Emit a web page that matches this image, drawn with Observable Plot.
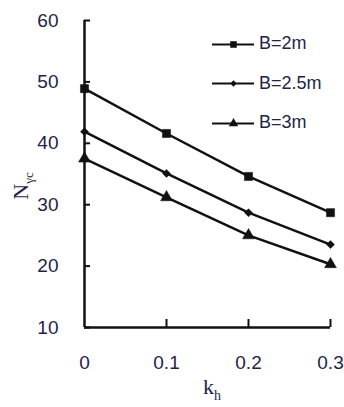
<!DOCTYPE html>
<html>
<head>
<meta charset="utf-8">
<script src="https://cdn.jsdelivr.net/npm/d3@7"></script>
<script src="https://cdn.jsdelivr.net/npm/@observablehq/plot@0.6"></script>
<style>
  html, body { margin: 0; padding: 0; background: #fff; }
  #wrap { position: relative; width: 344px; height: 407px; overflow: hidden; }
  .legend { position: absolute; left: 212px; top: 24px; font-family: "Liberation Sans", Arial, sans-serif; font-size: 18px; color: #1e2448; }
  .legend .row { display: flex; align-items: center; height: 39.5px; }
  .legend svg { margin-right: 5px; }
</style>
</head>
<body>
<div id="wrap"></div>
<script>
const kh = [0, 0.1, 0.2, 0.3];
const seriesNames = ["B=2m", "B=2.5m", "B=3m"];
const nB2 = [48.9, 41.6, 34.6, 28.7];
const nB25 = [41.9, 35.1, 28.7, 23.5];
const nB3 = [37.5, 31.2, 25.0, 20.3];
const symbols = ["square", "diamond2", "triangle"];
const sizes = [4.6, 3.6, 4.4];
const yTicks = [10, 20, 30, 40, 50, 60];
const xTicks = [0, 0.1, 0.2, 0.3];
const xTickLabels = ["0", "0.1", "0.2", "0.3"];

const values = [nB2, nB25, nB3];
const data = [];
seriesNames.forEach((s, i) => kh.forEach((k, j) => data.push({series: s, k, n: values[i][j], i})));

const ink = "#111";
const labelColor = "#1e2448";

const marks = [
  Plot.axisY({ticks: yTicks, tickSize: -6, tickPadding: 32, stroke: ink, strokeWidth: 2, fontSize: 19, fill: labelColor, label: null}),
  Plot.axisX({ticks: xTicks.slice(1), tickSize: -8, tickPadding: 0, stroke: ink, strokeWidth: 2, text: null, label: null}),
  Plot.axisX({ticks: xTicks, tickFormat: (d) => xTickLabels[xTicks.indexOf(d)], tickSize: 0, tickPadding: 28, fontSize: 19, fill: labelColor, label: null}),
  Plot.ruleX([0], {y1: 10, y2: 60, stroke: ink, strokeWidth: 2.5}),
  Plot.ruleY([10], {x1: 0, x2: 0.3, stroke: ink, strokeWidth: 2.5}),
];
seriesNames.forEach((s, i) => {
  const d = data.filter(r => r.series === s);
  marks.push(Plot.line(d, {x: "k", y: "n", stroke: ink, strokeWidth: 2.5}));
  marks.push(Plot.dot(d, {x: "k", y: "n", symbol: () => symbols[i], r: sizes[i], fill: ink, stroke: ink, strokeWidth: 0.5}));
});

const chart = Plot.plot({
  width: 344,
  height: 407,
  marginLeft: 84,
  marginRight: 14,
  marginTop: 20,
  marginBottom: 80,
  style: {fontFamily: "'Liberation Sans', Arial, sans-serif", background: "#fff"},
  x: {domain: [0, 0.3]},
  y: {domain: [10, 60]},
  marks
});
document.getElementById("wrap").appendChild(chart);

// axis titles with subscripts
const svg = d3.select(chart);
const ty = svg.append("text")
  .attr("transform", "translate(28,186) rotate(-90)")
  .attr("text-anchor", "middle")
  .attr("font-family", "'Liberation Serif', 'DejaVu Serif', serif")
  .attr("font-size", 22)
  .attr("fill", labelColor);
ty.append("tspan").text("N");
ty.append("tspan").attr("font-size", 13).attr("dy", 5).text("γc");

const tx = svg.append("text")
  .attr("x", 212).attr("y", 394)
  .attr("text-anchor", "middle")
  .attr("font-family", "'Liberation Serif', 'DejaVu Serif', serif")
  .attr("font-size", 22)
  .attr("fill", labelColor);
tx.append("tspan").text("k");
tx.append("tspan").attr("font-size", 14).attr("dy", 6).text("h");

// legend
const legend = document.createElement("div");
legend.className = "legend";
seriesNames.forEach((s, i) => {
  const row = document.createElement("div");
  row.className = "row";
  const leg = Plot.plot({
    width: 42, height: 16, margin: 0,
    x: {domain: [0, 1], axis: null}, y: {domain: [0, 1], axis: null},
    style: {background: "transparent"},
    marks: [
      Plot.ruleY([0.5], {stroke: ink, strokeWidth: 2}),
      Plot.dot([0.5], {x: 0.5, y: 0.5, symbol: () => symbols[i], r: sizes[i] * 0.8, fill: ink})
    ]
  });
  row.appendChild(leg);
  const t = document.createElement("span");
  t.textContent = s;
  row.appendChild(t);
  legend.appendChild(row);
});
document.getElementById("wrap").appendChild(legend);
</script>
</body>
</html>
